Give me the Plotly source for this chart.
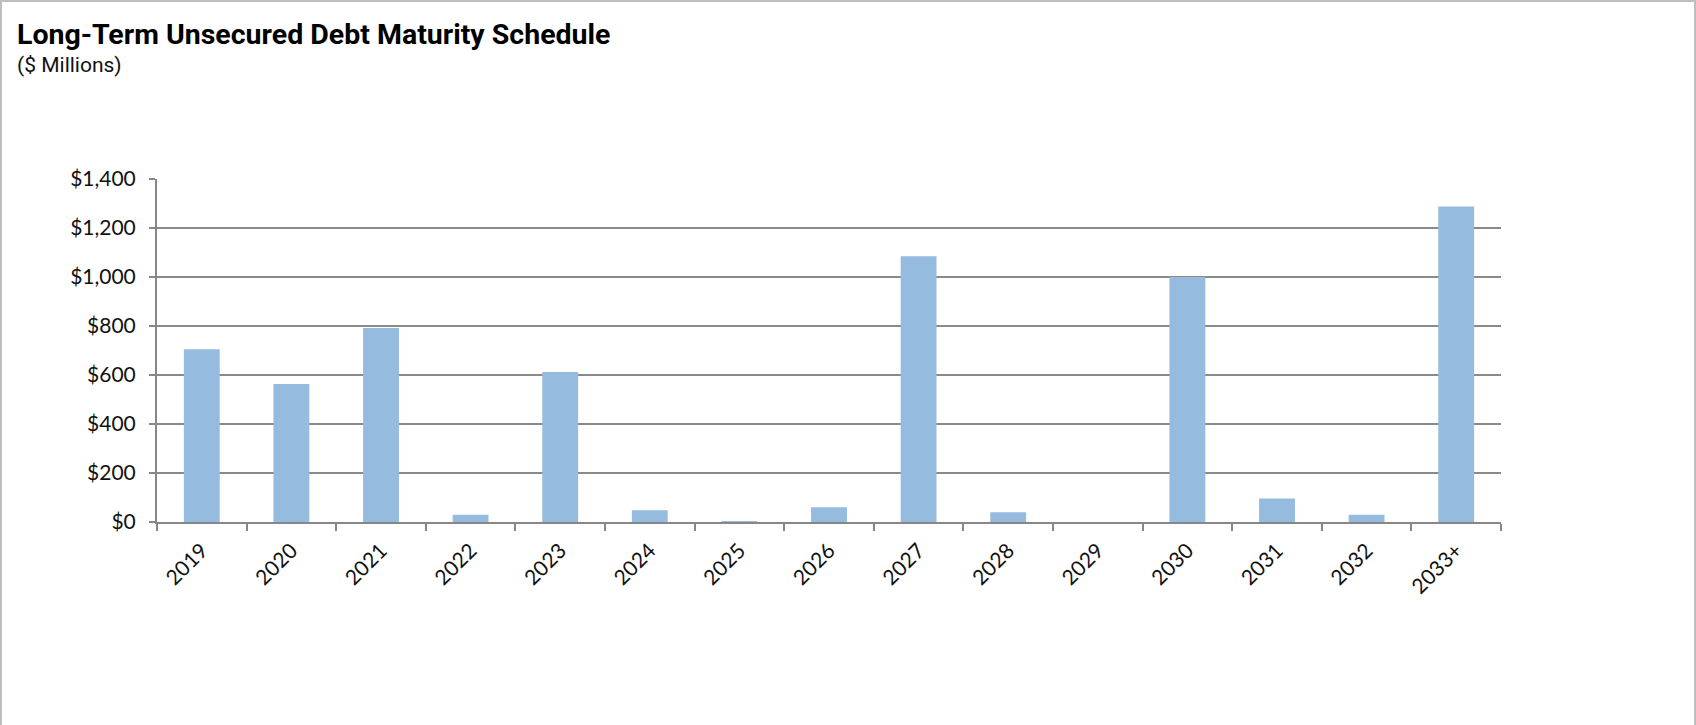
import plotly.graph_objects as go

years = ["2019", "2020", "2021", "2022", "2023", "2024", "2025", "2026", "2027",
         "2028", "2029", "2030", "2031", "2032", "2033+"]
debt = [705, 563, 792, 30, 612, 48, 3, 60, 1085, 40, 0, 1000, 96, 30, 1288]
y_ticks = [0, 200, 400, 600, 800, 1000, 1200, 1400]
y_labels = ["$0", "$200", "$400", "$600", "$800", "$1,000", "$1,200", "$1,400"]

W, H = 1696, 725
L, R, T, B = 157, 1696 - 1501, 179, 725 - 522
PW, PH = W - L - R, H - T - B


def px(x):
    return (x - L) / PW


def py(y):
    return (H - B - y) / PH


fig = go.Figure()
fig.add_trace(go.Bar(
    x=years, y=debt,
    marker=dict(color="#95BBDF", line=dict(color="#D6E4F2", width=0)),
    hoverinfo="x+y",
))

fig.update_layout(
    width=W, height=H,
    margin=dict(l=L, r=R, t=T, b=B),
    paper_bgcolor="white", plot_bgcolor="white",
    bargap=0.6,
    showlegend=False,
    font=dict(family="Lato, Open Sans, sans-serif", color="#111111", size=21),
    xaxis=dict(
        type="category",
        showline=True, linecolor="#878787", linewidth=2,
        ticks="outside", tickson="boundaries", ticklen=7, tickcolor="#878787", tickwidth=2,
        tickangle=-45, tickfont=dict(size=21),
        ticklabelstandoff=6,
        showgrid=False,
    ),
    yaxis=dict(
        range=[0, 1400],
        tickvals=y_ticks, ticktext=y_labels,
        showline=True, linecolor="#878787", linewidth=2,
        ticks="outside", ticklen=6, tickcolor="#878787", tickwidth=2,
        showgrid=True, gridcolor="#8A8A8A", gridwidth=2,
        zeroline=False,
        tickfont=dict(size=21),
        ticklabelstandoff=9,
    ),
    annotations=[
        dict(text="<b>Long-Term Unsecured Debt Maturity Schedule</b>",
             xref="paper", yref="paper", x=px(15), y=py(16),
             xanchor="left", yanchor="top", showarrow=False,
             font=dict(family="Roboto, sans-serif", size=28.5, color="#000000")),
        dict(text="($ Millions)",
             xref="paper", yref="paper", x=px(15), y=py(51),
             xanchor="left", yanchor="top", showarrow=False,
             font=dict(family="Roboto, sans-serif", size=21, color="#111111")),
    ],
    shapes=[
        dict(type="rect", xref="paper", yref="paper",
             x0=px(1), x1=px(1695), y0=py(1), y1=py(H + 5),
             line=dict(color="#BFBFBF", width=2), fillcolor="rgba(0,0,0,0)", layer="below"),
    ],
)

fig.write_html("out.html", config={"displayModeBar": False},
               post_script="document.body.style.margin='0px';")
